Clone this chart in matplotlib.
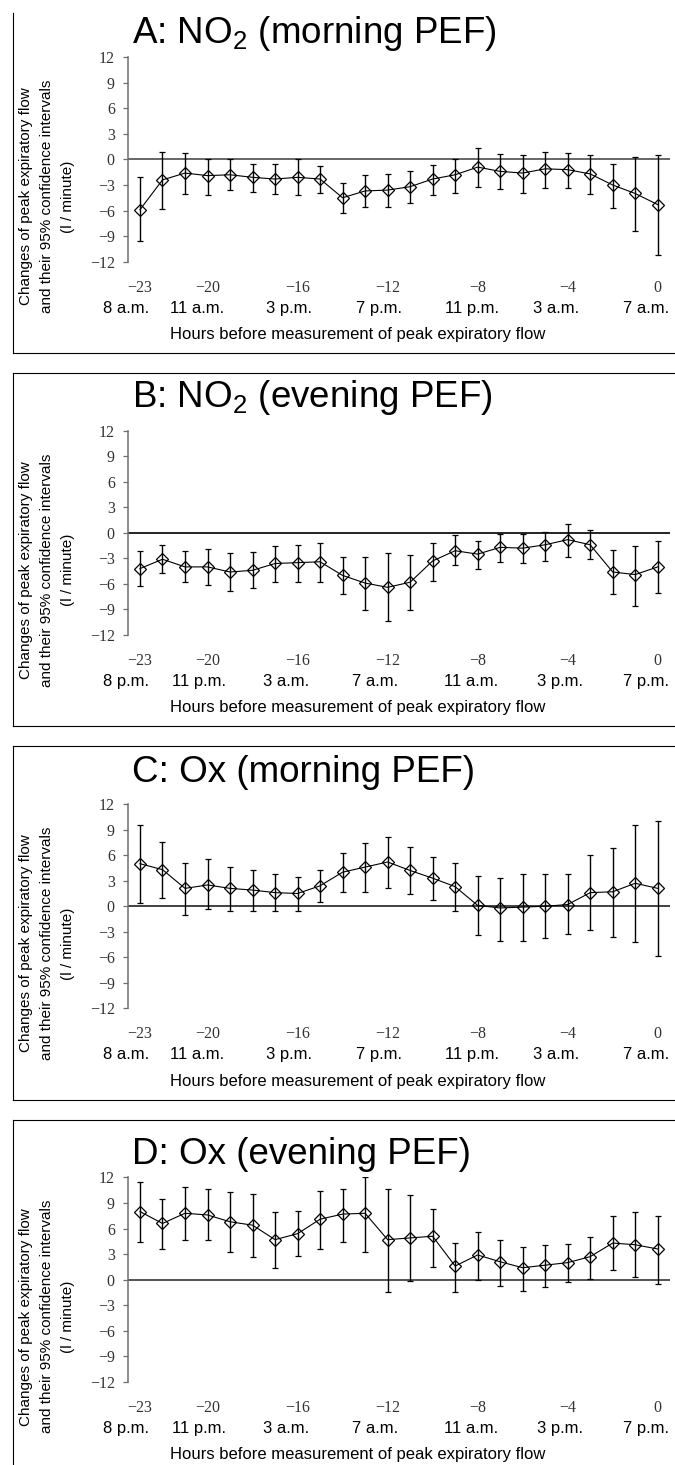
import matplotlib
matplotlib.use("Agg")
import matplotlib.pyplot as plt
from matplotlib.lines import Line2D

# ── Data ───────────────────────────────────────────────────────────────────
hours = list(range(-23, 1))
tick_hours = [-23, -20, -16, -12, -8, -4, 0]
morning_times = ["8 a.m.", "11 a.m.", "3 p.m.", "7 p.m.", "11 p.m.", "3 a.m.", "7 a.m."]
evening_times = ["8 p.m.", "11 p.m.", "3 a.m.", "7 a.m.", "11 a.m.", "3 p.m.", "7 p.m."]
y_ticks = [12, 9, 6, 3, 0, -3, -6, -9, -12]

no2_morning_est = [-5.9, -2.4, -1.6, -1.9, -1.8, -2.1, -2.3, -2.1, -2.3, -4.5, -3.7, -3.6,
                   -3.2, -2.3, -1.8, -0.9, -1.4, -1.6, -1.1, -1.2, -1.7, -3.0, -4.0, -5.3]
no2_morning_lo = [-9.6, -5.8, -4.1, -4.2, -3.6, -3.8, -4.1, -4.2, -3.9, -6.3, -5.6, -5.6,
                  -5.1, -4.2, -3.9, -3.2, -3.5, -4.0, -3.4, -3.4, -4.1, -5.7, -8.4, -11.2]
no2_morning_hi = [-2.1, 0.9, 0.8, 0.1, 0.0, -0.5, -0.5, 0.0, -0.8, -2.8, -1.8, -1.7,
                  -1.4, -0.6, 0.0, 1.3, 0.6, 0.5, 0.9, 0.8, 0.5, -0.5, 0.3, 0.5]

no2_evening_est = [-4.2, -3.1, -4.0, -4.0, -4.6, -4.4, -3.6, -3.5, -3.4, -5.0, -5.9, -6.4,
                   -5.8, -3.3, -2.1, -2.5, -1.7, -1.8, -1.4, -0.8, -1.4, -4.6, -4.9, -4.0]
no2_evening_lo = [-6.3, -4.7, -5.8, -6.1, -6.8, -6.5, -5.8, -5.8, -5.8, -7.2, -9.1, -10.4,
                  -9.1, -5.6, -3.8, -4.3, -3.4, -3.6, -3.3, -2.8, -3.1, -7.2, -8.6, -7.1]
no2_evening_hi = [-2.1, -1.4, -2.1, -1.9, -2.4, -2.3, -1.6, -1.4, -1.2, -2.8, -2.8, -2.4,
                  -2.6, -1.2, -0.3, -0.9, -0.1, -0.1, 0.1, 1.0, 0.3, -2.0, -1.5, -1.0]

ox_morning_est = [5.0, 4.3, 2.1, 2.5, 2.1, 1.9, 1.6, 1.5, 2.4, 4.0, 4.6, 5.2,
                  4.2, 3.3, 2.3, 0.1, -0.2, -0.1, 0.0, 0.2, 1.6, 1.7, 2.7, 2.1]
ox_morning_lo = [0.4, 1.0, -1.0, -0.3, -0.5, -0.5, -0.6, -0.6, 0.5, 1.7, 1.7, 2.2,
                 1.4, 0.7, -0.5, -3.4, -4.1, -4.1, -3.7, -3.3, -2.8, -3.6, -4.2, -5.8]
ox_morning_hi = [9.5, 7.5, 5.1, 5.6, 4.6, 4.2, 3.8, 3.4, 4.2, 6.2, 7.4, 8.1,
                 7.0, 5.8, 5.1, 3.6, 3.3, 3.8, 3.8, 3.8, 6.0, 6.8, 9.6, 10.0]

ox_evening_est = [8.0, 6.6, 7.8, 7.6, 6.8, 6.4, 4.7, 5.4, 7.1, 7.7, 7.8, 4.7,
                  4.9, 5.1, 1.6, 2.9, 2.1, 1.4, 1.7, 2.0, 2.7, 4.3, 4.1, 3.6]
ox_evening_lo = [4.4, 3.6, 4.7, 4.6, 3.2, 2.7, 1.4, 2.8, 3.6, 4.4, 3.2, -1.5,
                 -0.2, 1.5, -1.4, 0.0, -0.7, -1.3, -0.9, -0.3, 0.1, 1.1, 0.3, -0.5]
ox_evening_hi = [11.5, 9.5, 10.9, 10.6, 10.3, 10.1, 8.0, 8.1, 10.4, 10.7, 12.0, 10.7,
                 9.9, 8.3, 4.3, 5.6, 4.7, 3.8, 4.1, 4.2, 5.0, 7.5, 8.0, 7.5]

# ── Layout (pixels of the 675 x 1465 canvas) ───────────────────────────────
W, H = 675, 1465
PITCH = 373.4
AX_LEFT, AX_RIGHT = 127.7, 670.0
AX_TOP, AX_BOT = 57.7, 262.0          # offsets from panel origin
BOX_TOP = [13, 373, 746, 1120]
BOX_BOT = [353, 726, 1100, 1473]
TITLE_BASE = [43, 407, 782, 1164]
SHIFT_MORNING = [-0.6, -0.47, -0.38, -0.38, -0.25, -0.5, -0.5]
SHIFT_EVENING = [-0.62, -0.38, -0.5, -0.54, -0.3, -0.32, -0.5]
SANS = "Liberation Sans"
SERIF = "Liberation Serif"


def fx(px):
    return px / W


def fy(py):
    return 1 - py / H


plt.rcParams["font.family"] = SANS
plt.rcParams["mathtext.default"] = "regular"

panels = [
    ("A: NO$_2$ (morning PEF)", no2_morning_est, no2_morning_lo, no2_morning_hi, morning_times, SHIFT_MORNING, "#5a5a5a"),
    ("B: NO$_2$ (evening PEF)", no2_evening_est, no2_evening_lo, no2_evening_hi, evening_times, SHIFT_EVENING, "#111111"),
    ("C: Ox (morning PEF)", ox_morning_est, ox_morning_lo, ox_morning_hi, morning_times, SHIFT_MORNING, "#333333"),
    ("D: Ox (evening PEF)", ox_evening_est, ox_evening_lo, ox_evening_hi, evening_times, SHIFT_EVENING, "#444444"),
]
ylab = ["Changes of peak expiratory flow", "and their 95% confidence intervals", "(l / minute)"]

fig = plt.figure(figsize=(W / 100, H / 100), dpi=100)

for i, (title, est, lo, hi, times, shifts, zero_col) in enumerate(panels):
    T = -0.4 + PITCH * i

    # ── frame around the panel (right side runs off the canvas)
    top, bot = BOX_TOP[i], BOX_BOT[i]
    fig.add_artist(Line2D([fx(12.7), fx(12.7)], [fy(top), fy(bot)], transform=fig.transFigure,
                          color="black", lw=0.8))
    if i > 0:
        fig.add_artist(Line2D([fx(12.7), fx(700)], [fy(top), fy(top)], transform=fig.transFigure,
                              color="black", lw=0.8))
    fig.add_artist(Line2D([fx(12.7), fx(700)], [fy(bot), fy(bot)], transform=fig.transFigure,
                          color="black", lw=0.8))

    # ── estimates with 95% CI
    ax = fig.add_axes([fx(AX_LEFT), fy(T + AX_BOT), fx(AX_RIGHT) - fx(AX_LEFT), (AX_BOT - AX_TOP) / H])
    yerr = [[e - l for e, l in zip(est, lo)], [h - e for e, h in zip(est, hi)]]
    ax.errorbar(hours, est, yerr=yerr, fmt="-", color="black", lw=0.8,
                marker="D", ms=6, mfc="none", mec="black", mew=0.9,
                ecolor="black", elinewidth=1.0, capsize=2.5, capthick=1.0, zorder=3)
    ax.axhline(0, color=zero_col, lw=1.3, zorder=2)

    ax.set_xlim(-23.546, 0.546)
    ax.set_ylim(-12, 12)
    for s in ["top", "right", "bottom"]:
        ax.spines[s].set_visible(False)
    ax.spines["left"].set_color("#6e6e6e")
    ax.spines["left"].set_linewidth(1.1)

    ax.set_yticks(y_ticks)
    ax.set_yticklabels([str(v).replace("-", "\u2212") for v in y_ticks],
                       family=SERIF, fontsize=11.5, color="#333333")
    ax.tick_params(axis="y", direction="out", length=3.3, width=0.9, color="#6e6e6e", pad=6)
    ax.set_xticks(tick_hours)
    ax.set_xticklabels([str(v).replace("-", "\u2212") for v in tick_hours],
                       family=SERIF, fontsize=11.5, color="#333333")
    ax.tick_params(axis="x", length=0, pad=13)

    # ── clock-time labels under the hour ticks
    for h, lab, sh in zip(tick_hours, times, shifts):
        px = AX_LEFT + (h + sh + 23.546) / 24.092 * (AX_RIGHT - AX_LEFT)
        fig.text(fx(px), fy(T + 308.5), lab, ha="center", va="center", fontsize=12)

    fig.text(fx(358), fy(T + 334.7), "Hours before measurement of peak expiratory flow",
             ha="center", va="center", fontsize=12)

    fig.text(fx(132), fy(TITLE_BASE[i]), title, ha="left", va="baseline", fontsize=26.5)

    for xc, line in zip([26, 47, 68], ylab):
        fig.text(fx(xc), fy(T + 197), line, rotation=90, ha="center", va="center", fontsize=11)

fig.savefig("out.png", dpi=100)
